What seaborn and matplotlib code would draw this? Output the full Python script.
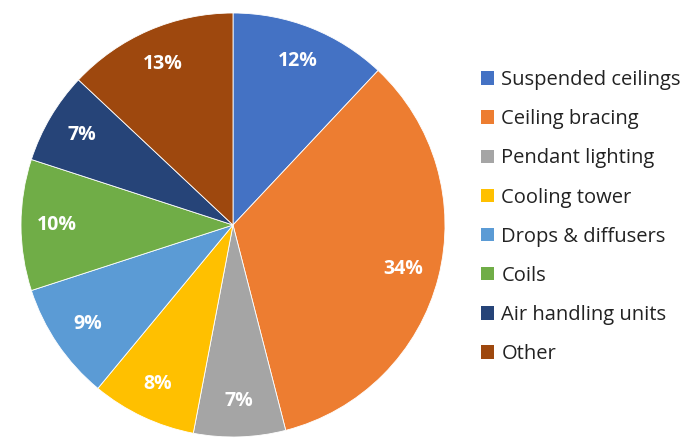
import matplotlib
matplotlib.use("Agg")
import matplotlib.pyplot as plt
import seaborn as sns
from matplotlib.patches import Patch

# data
categories = ["Suspended ceilings", "Ceiling bracing", "Pendant lighting", "Cooling tower",
              "Drops & diffusers", "Coils", "Air handling units", "Other"]
shares = [12, 34, 7, 8, 9, 10, 7, 13]
colors = ["#4472C4", "#ED7D31", "#A5A5A5", "#FFC000",
          "#5B9BD5", "#70AD47", "#264478", "#9E480E"]

sns.set_style("white")
plt.rcParams['font.family'] = ['Open Sans', 'DejaVu Sans']
palette = sns.color_palette(colors)

fig = plt.figure(figsize=(6.88, 4.41), dpi=100)
ax = fig.add_axes([21 / 688, 4 / 441, 424 / 688, 424 / 441])

wedges, texts, autotexts = ax.pie(
    shares, colors=palette, startangle=90, counterclock=False,
    autopct=lambda p: f"{p:.0f}%", pctdistance=0.83, radius=1.0,
    wedgeprops=dict(linewidth=0.6, edgecolor="white"),
    textprops=dict(color="white", fontsize=14, fontweight="bold"))
ax.set_xlim(-1, 1)
ax.set_ylim(-1, 1)
ax.set_aspect("equal")

handles = [Patch(facecolor=c, edgecolor="none") for c in palette]
fig.legend(handles, categories, loc="upper left", bbox_to_anchor=(463 / 688, 1 - 52 / 441),
           frameon=False, fontsize=14.5, handlelength=0.65, handleheight=0.65,
           handletextpad=0.35, labelspacing=0.95, labelcolor="#222222")

fig.savefig("out.png", dpi=100)
